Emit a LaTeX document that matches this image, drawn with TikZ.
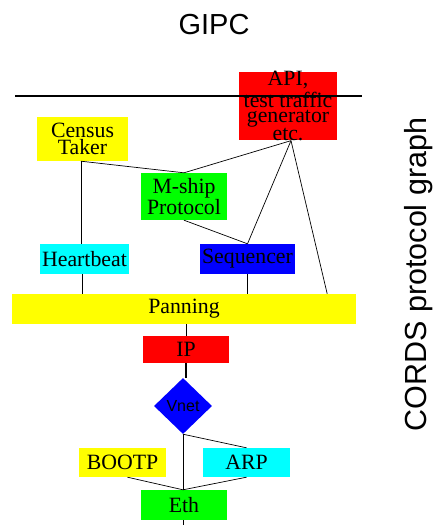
\documentclass[tikz,border=0pt]{standalone}
\usepackage{fontspec}
\setmainfont{Liberation Serif}
\newfontfamily\arialfont{Liberation Sans}
\usetikzlibrary{shapes.geometric,calc}
\definecolor{pRed}{RGB}{255,0,0}
\definecolor{pYellow}{RGB}{255,255,0}
\definecolor{pGreen}{RGB}{0,255,0}
\definecolor{pCyan}{RGB}{0,255,255}
\definecolor{pBlue}{RGB}{0,0,255}
\begin{document}
\begin{tikzpicture}[x=1pt,y=-1pt,
  box/.style={rectangle, inner sep=0pt, align=center,
    font=\fontsize{21.8}{14.5}\selectfont},
  link/.style={draw=black, line width=0.7pt},
  thicklink/.style={draw=black, line width=2pt},
  sidefont/.style={font=\arialfont\fontsize{30.5}{30.5}\selectfont}]
\useasboundingbox (0,0) rectangle (433,525);

% title and side label
\node[font=\arialfont\fontsize{29}{29}\selectfont] (title) at (214,24.5) {GIPC};
\node[sidefont, rotate=90, inner sep=0pt] (side) at (419,274.5) {CORDS protocol graph};

% nodes
\node[box, fill=pRed, minimum width=98pt, minimum height=66pt] (api) at (288,106)
  {API,\\[2pt]test traffic\\generator\\etc.};
\node[box, fill=pYellow, minimum width=91pt, minimum height=44pt] (census) at (82.5,139)
  {Census\\Taker};
\node[box, fill=pGreen, minimum width=86pt, minimum height=47pt] (mship) at (184,196.5)
  {M-ship\\Protocol};
\node[box, fill=pCyan, minimum width=89pt, minimum height=30pt] (hb) at (84.5,259) {Heartbeat};
\node[box, fill=pBlue, minimum width=95pt, minimum height=30pt] (seq) at (247.5,259) {Sequencer};
\node[box, fill=pYellow, minimum width=344pt, minimum height=30pt] (pan) at (184,309) {Panning};
\node[box, fill=pRed, minimum width=86pt, minimum height=27pt] (ip) at (186,349.5) {IP};
\node[diamond, fill=pBlue, inner sep=0pt, minimum width=58pt, minimum height=56pt,
  font=\arialfont\fontsize{16}{16}\selectfont] (vnet) at (183,406) {Vnet};
\node[box, fill=pYellow, minimum width=87pt, minimum height=29pt] (bootp) at (122.5,462.5) {BOOTP};
\node[box, fill=pCyan, minimum width=87pt, minimum height=29pt] (arp) at (246.5,462.5) {ARP};
\node[box, fill=pGreen, minimum width=86pt, minimum height=30pt] (eth) at (184,505) {Eth};

% horizontal separator
\coordinate (hl) at (15,96);
\coordinate (hr) at (362,96);
\draw[line width=2pt] (hl) -- (hr);

% helper coordinates
\coordinate (apib) at ($(api.south)+(3,0)$);
\coordinate (panR) at ($(pan.north east)+(-29,0)$);
\coordinate (bootpb) at ($(bootp.south)+(5,0)$);
\coordinate (censusb) at ($(census.south)+(-1.5,0)$);
\coordinate (hbb) at ($(hb.south)+(-2.5,0)$);
\coordinate (ethend) at ($(eth.south)+(0,5)$);

% connectors
\draw[link] (censusb) -- (censusb |- hb.north);
\draw[link] (censusb) -- (mship.north);
\draw[link] (apib) -- (mship.north);
\draw[link] (apib) -- (seq.north);
\draw[link] (apib) -- (panR);
\draw[link] (mship.south) -- (seq.north);
\draw[link] (hbb) -- (hbb |- pan.north);
\draw[link] (seq.south) -- (seq.south |- pan.north);
\draw[link] (ip.north |- pan.south) -- (ip.north);
\draw[thicklink] (ip.south) -- (ip.south |- vnet.north);
\draw[link] (vnet.south) -- (vnet.south |- eth.north);
\draw[link] (vnet.south) -- (arp.north);
\draw[link] (bootpb) -- (vnet.south |- eth.north);
\draw[link] (arp.south) -- (vnet.south |- eth.north);
\draw[link] (vnet.south |- eth.south) -- (vnet.south |- ethend);
\end{tikzpicture}
\end{document}
